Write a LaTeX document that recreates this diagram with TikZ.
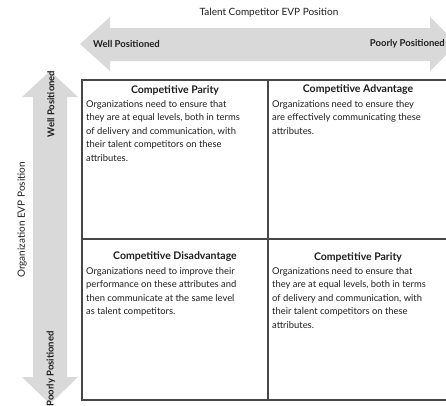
\documentclass[tikz,border=0pt]{standalone}
\usepackage{fontspec}
\setmainfont{Lato}

\begin{document}
\begin{tikzpicture}
                \tikzset{x=1pt, y=-1pt}
                \definecolor{bandgray}{HTML}{D9D9D9}
                \definecolor{inkgray}{HTML}{1E1E1E}
                \tikzstyle{band}=[fill=bandgray, draw=none]
                \tikzstyle{quadline}=[draw=black!72, line width=1.1pt]
                \tikzstyle{axis}=[inner sep=0pt, text=inkgray, font=\fontsize{10}{12}\selectfont]
                \tikzstyle{place}=[inner sep=0pt, text=inkgray, font=\bfseries\fontsize{9.5}{11}\selectfont]
                \tikzstyle{quadtitle}=[inner sep=0pt, text=inkgray, font=\bfseries\fontsize{10.5}{12}\selectfont]
                \tikzstyle{body}=[inner sep=0pt, anchor=north west, align=left, text=inkgray, font=\fontsize{9.4}{13.5}\selectfont]

                \useasboundingbox (0,0) rectangle (446,405);
                \clip (0,0) rectangle (446,405);

                % the two axis arrows
                \fill[band] (80,44) -- (110,17) -- (110,28) -- (430,28) -- (430,17) -- (457,44)
                            -- (430,71) -- (430,61) -- (110,61) -- (110,71) -- cycle;
                \fill[band] (50,71) -- (78,97) -- (67,97) -- (67,377) -- (78,377) -- (50,404)
                            -- (22,377) -- (33,377) -- (33,97) -- (22,97) -- cycle;

                \draw (269, 13)     node[axis]                (tcomp) {Talent Competitor EVP Position};
                \draw (93, 44)      node[place, anchor=west]  (hwell) {Well Positioned};
                \draw (445, 44)     node[place, anchor=east]  (hpoor) {Poorly Positioned};

                \draw (22, 220)     node[axis, rotate=90]     (org)   {Organization EVP Position};
                \draw (51, 104)     node[place, rotate=90]    (vwell) {Well Positioned};
                \draw (51, 369)     node[place, rotate=90]    (vpoor) {Poorly Positioned};

                % the four quadrants
                \draw[quadline] (82, 80) rectangle (450, 400);
                \draw[quadline] (268, 80) -- (268, 400);
                \draw[quadline] (82, 239) -- (450, 239);

                \draw (175, 90)     node[quadtitle]           (t1)    {Competitive Parity};
                \draw (86, 100)     node[body]                (b1)    {Organizations need to ensure that\\they are at equal levels, both in terms\\of delivery and communication, with\\their talent competitors on these\\attributes.};

                \draw (358, 90)     node[quadtitle]           (t2)    {Competitive Advantage};
                \draw (272, 100)    node[body]                (b2)    {Organizations need to ensure they\\are effectively communicating these\\attributes.};

                \draw (175, 257)    node[quadtitle]           (t3)    {Competitive Disadvantage};
                \draw (86, 267)     node[body]                (b3)    {Organizations need to improve their\\performance on these attributes and\\then communicate at the same level\\as talent competitors.};

                \draw (358, 257)    node[quadtitle]           (t4)    {Competitive Parity};
                \draw (272, 267)    node[body]                (b4)    {Organizations need to ensure that\\they are at equal levels, both in terms\\of delivery and communication, with\\their talent competitors on these\\attributes.};
            \end{tikzpicture}
\end{document}
